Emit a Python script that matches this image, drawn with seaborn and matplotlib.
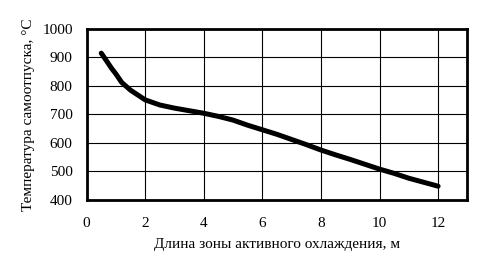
import matplotlib
matplotlib.use("Agg")
import matplotlib.pyplot as plt
import seaborn as sns
import pandas as pd

length_m = [0.5, 0.7, 0.85, 1.0, 1.2, 1.5, 2.0, 2.5, 3.0, 3.5, 4.0, 4.5, 5.0, 5.5,
            6.0, 6.5, 7.0, 7.5, 8.0, 8.5, 9.0, 9.5, 10.0, 10.5, 11.0, 11.5, 12.0]
temp_c = [915, 885, 862, 842, 812, 785, 751, 733, 722, 713, 704, 693, 680, 662,
          646, 630, 612, 594, 575, 558, 542, 525, 508, 493, 476, 462, 448]
x_ticks = [0, 2, 4, 6, 8, 10, 12]
y_ticks = [400, 500, 600, 700, 800, 900, 1000]
x_label = "Длина зоны активного охлаждения, м"
y_label = "Температура самоотпуска, °С"

sns.set_theme(style="white")
plt.rcParams["font.family"] = ["Liberation Serif", "DejaVu Serif"]

df = pd.DataFrame({"x": length_m, "y": temp_c})

fig = plt.figure(figsize=(4.92, 2.78), dpi=100)
ax = fig.add_axes([0.176, 0.281, 0.774, 0.615])
sns.lineplot(data=df, x="x", y="y", ax=ax, color="black", linewidth=3.6)

ax.set_xlim(0, 13)
ax.set_ylim(400, 1000)
ax.set_xticks(x_ticks)
ax.set_yticks(y_ticks)
ax.grid(True, color="black", linewidth=0.8)
for s in ax.spines.values():
    s.set_color("black")
    s.set_linewidth(2.0)
ax.tick_params(axis="both", direction="out", length=4, width=1, color="black",
               labelsize=11, labelcolor="black", pad=6)
ax.tick_params(axis="x", pad=8)
ax.set_xlabel(x_label, fontsize=11, color="black", labelpad=6)
ax.set_ylabel(y_label, fontsize=11, color="black", labelpad=5)

fig.savefig("out.png", dpi=100, facecolor="white")
